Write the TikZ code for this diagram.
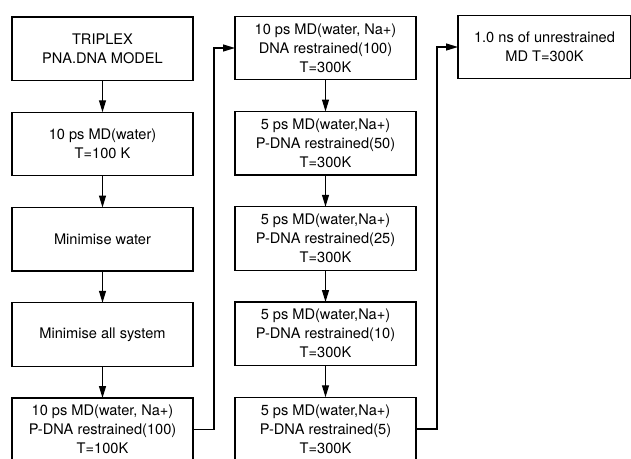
\documentclass[tikz,border=0pt]{standalone}
\usepackage{fontspec}
\setmainfont{TeX Gyre Heros}
\usetikzlibrary{arrows.meta, positioning}

\begin{document}
\begin{tikzpicture}[
            x = 1pt, y = 1pt,
            > = {Triangle[length=12pt,width=7pt]}, % arrow head style
            node distance = 31.75pt, % distance between boxes
            line width = 1.2pt % line style
        ]

        \tikzstyle{stage}=[
            draw = black,
            fill = white,
            align = center,
            outer sep = 0pt,
            minimum width = 181pt,
            minimum height = 63.5pt,
            font = \fontsize{14.6}{19}\selectfont
        ]

        \clip (0,0) rectangle (631,-458);

        % first column
        \node[stage] (a1) at (102.5,-48.75) {TRIPLEX\\PNA.DNA MODEL};
        \node[stage] (a2) [below=of a1] {10 ps MD(water)\\T=100 K};
        \node[stage] (a3) [below=of a2] {Minimise water};
        \node[stage] (a4) [below=of a3] {Minimise all system};
        \node[stage] (a5) [below=of a4] {10 ps MD(water, Na+)\\P-DNA restrained(100)\\T=100K};

        % second column
        \node[stage] (b1) at (325.5,-48) {10 ps MD(water, Na+)\\DNA restrained(100)\\T=300K};
        \node[stage] (b2) [below=of b1] {5 ps MD(water,Na+)\\P-DNA restrained(50)\\T=300K};
        \node[stage] (b3) [below=of b2] {5 ps MD(water,Na+)\\P-DNA restrained(25)\\T=300K};
        \node[stage] (b4) [below=of b3] {5 ps MD(water,Na+)\\P-DNA restrained(10)\\T=300K};
        \node[stage] (b5) [below=of b4] {5 ps MD(water,Na+)\\P-DNA restrained(5)\\T=300K};

        % last stage
        \node[stage, minimum width = 173pt] (c1) at (544.5,-47) {1.0 ns of unrestrained\\MD T=300K};

        \path[->] (a1) edge (a2);
        \path[->] (a2) edge (a3);
        \path[->] (a3) edge (a4);
        \path[->] (a4) edge (a5);

        \path[->] (b1) edge (b2);
        \path[->] (b2) edge (b3);
        \path[->] (b3) edge (b4);
        \path[->] (b4) edge (b5);

        \draw[->] (a5.east) -| ([xshift=-21pt]b1.west) -- (b1.west);
        \draw[->] (b5.east) -| ([xshift=-21pt]c1.west) -- (c1.west);

  \end{tikzpicture}
\end{document}
